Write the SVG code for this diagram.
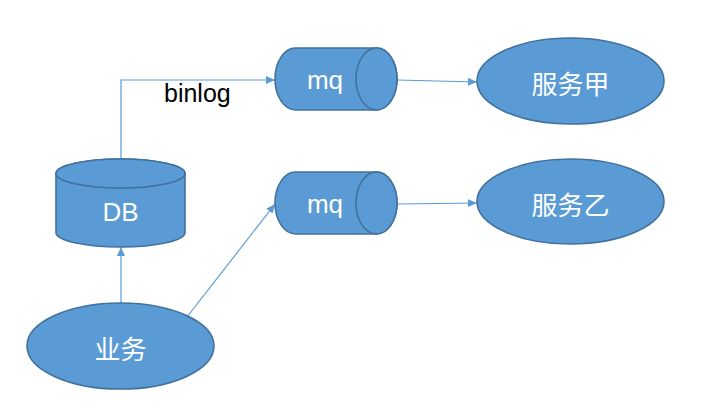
<svg xmlns="http://www.w3.org/2000/svg" width="718" height="415" viewBox="0 0 718 415">
<defs>
<style>
.shape{fill:#5B9BD5;stroke:#41719C;stroke-width:1.6}
.conn{fill:none;stroke:#5B9BD5;stroke-width:1.2}
.lbl{fill:#FFFFFF;font-family:"Liberation Sans",Arial,sans-serif;font-size:26px;text-anchor:middle;dominant-baseline:central}
.cjk{fill:#FFFFFF;font-family:"Noto Sans CJK SC","Noto Sans",sans-serif;font-size:26px;text-anchor:middle;dominant-baseline:central}
.edge{fill:#000000;font-family:"Liberation Sans",Arial,sans-serif;font-size:25px}
</style>
<marker id="arr" markerWidth="10" markerHeight="10" refX="9" refY="5" orient="auto" markerUnits="userSpaceOnUse">
<path d="M0,1 L9,5 L0,9 Z" fill="#5B9BD5"/>
</marker>
</defs>
<rect width="718" height="415" fill="#FFFFFF"/>
<g id="connectors">
<path class="conn" d="M121,159 L121,80 L275,80" marker-end="url(#arr)"/>
<path class="conn" d="M397,80 L477,82" marker-end="url(#arr)"/>
<path class="conn" d="M121,303 L121,247" marker-end="url(#arr)"/>
<path class="conn" d="M187,317 L275,204" marker-end="url(#arr)"/>
<path class="conn" d="M397,204 L477,203" marker-end="url(#arr)"/>
<text class="edge" x="164" y="102">binlog</text>
</g>
<g id="db">
<path class="shape" d="M56,173.5 A64.5,14.5 0 0 1 185,173.5 L185,232.5 A64.5,14.5 0 0 1 56,232.5 Z"/>
<ellipse class="shape" cx="120.5" cy="173.5" rx="64.5" ry="14.5"/>
<text class="lbl" x="120.5" y="212">DB</text>
</g>
<g id="mq1">
<path class="shape" d="M295.5,48 L376.5,48 A20.5,31 0 0 1 376.5,110 L295.5,110 A20.5,31 0 0 1 295.5,48 Z"/>
<ellipse class="shape" cx="376.5" cy="79" rx="20.5" ry="31"/>
<text class="lbl" x="325" y="80">mq</text>
</g>
<g id="mq2">
<path class="shape" d="M295.5,172 L376.5,172 A20.5,31 0 0 1 376.5,234 L295.5,234 A20.5,31 0 0 1 295.5,172 Z"/>
<ellipse class="shape" cx="376.5" cy="203" rx="20.5" ry="31"/>
<text class="lbl" x="325" y="204">mq</text>
</g>
<g id="svc-a">
<ellipse class="shape" cx="570.5" cy="81" rx="93.5" ry="43"/>
<text class="cjk" x="570.5" y="82">服务甲</text>
</g>
<g id="svc-b">
<ellipse class="shape" cx="570.5" cy="201.5" rx="93.5" ry="42.5"/>
<text class="cjk" x="570.5" y="203">服务乙</text>
</g>
<g id="biz">
<ellipse class="shape" cx="120.5" cy="346" rx="93.5" ry="43"/>
<text class="cjk" x="120.5" y="347">业务</text>
</g>
</svg>
